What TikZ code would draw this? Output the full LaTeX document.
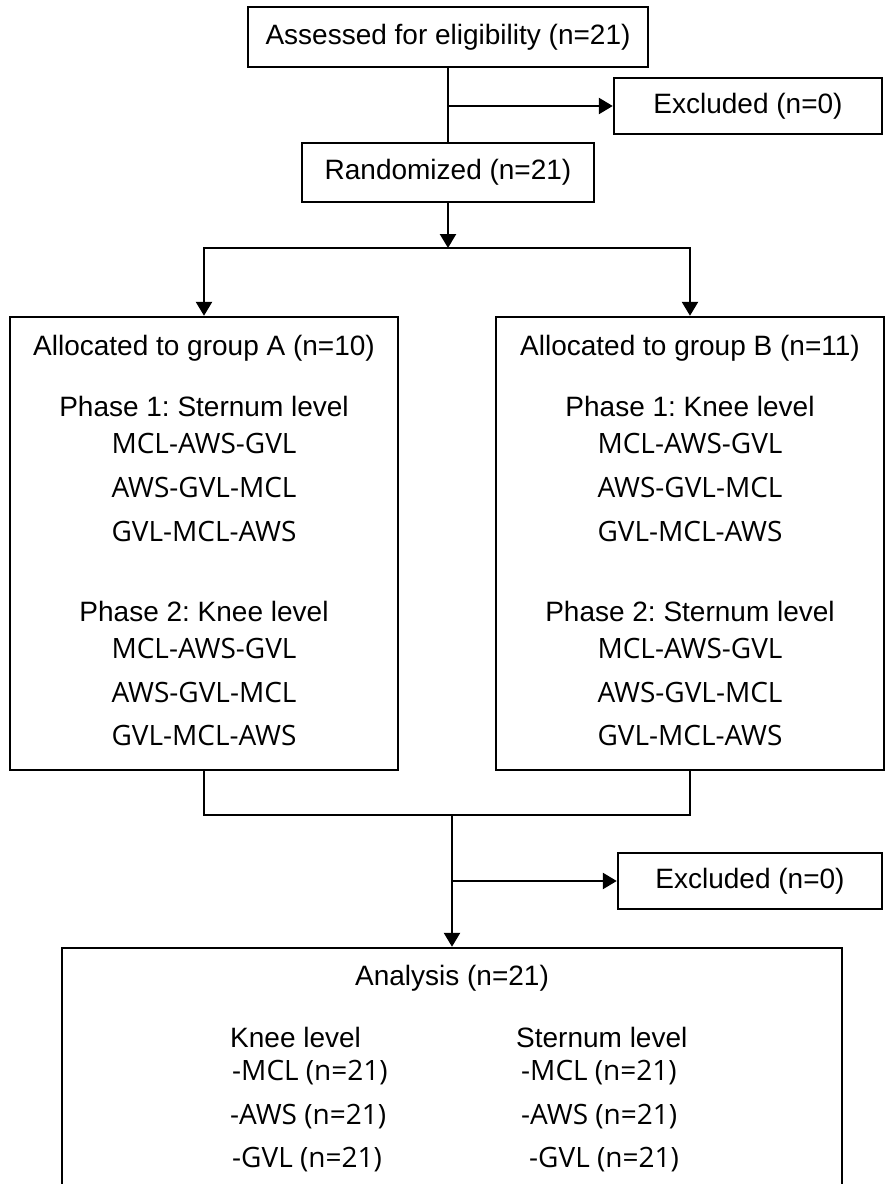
\documentclass[tikz,border=0pt]{standalone}
\usepackage{fontspec}
\setmainfont{Liberation Sans}
\newfontfamily\seqfont{Open Sans}
\usetikzlibrary{positioning,arrows.meta}
\frenchspacing

\tikzset{
  box/.style={draw, line width=1.2pt, inner sep=0pt, font=\fontsize{14}{17}\selectfont},
  lbl/.style={inner sep=0pt, font=\fontsize{14}{17}\selectfont},
  seq/.style={inner sep=0pt, font=\seqfont\fontsize{14}{17}\selectfont},
}

\begin{document}
\begin{tikzpicture}[x=0.5pt, y=-0.5pt, >={Triangle[length=7pt,width=8pt]}, line width=1.2pt]
  \useasboundingbox (0,0) rectangle (893,1184);

  % boxes
  \node[box, minimum width=200pt, minimum height=30pt] (assess) at (448,37) {Assessed for eligibility (n=21)};
  \node[box, minimum width=134pt, minimum height=28pt] (excl1) at (748,106) {Excluded (n=0)};
  \node[box, minimum width=146pt, minimum height=29.5pt] (rand) at (448,172.5) {Randomized (n=21)};
  \node[box, minimum width=194pt, minimum height=226.5pt] (grpA) at (204,543.5) {};
  \node[box, minimum width=194pt, minimum height=226.5pt] (grpB) at (690,543.5) {};
  \node[box, minimum width=132pt, minimum height=28pt] (excl2) at (750,881) {Excluded (n=0)};
  \node[box, minimum width=390pt, minimum height=130pt] (anal) at (452,1078) {};

  \coordinate (branch) at (448,248);
  \coordinate (merge) at (452,815);

  % group A
  \node[lbl] (hdrA) at (204,348) {Allocated to group A (n=10)};
  \node[lbl] (phA1) at (204,406) {Phase 1: Sternum level};
  \node[lbl] (phA2) at (204,611) {Phase 2: Knee level};
  \foreach \s/\y [count=\i] in {MCL-AWS-GVL/443, AWS-GVL-MCL/487, GVL-MCL-AWS/531,
                                MCL-AWS-GVL/648, AWS-GVL-MCL/692, GVL-MCL-AWS/735}
    \node[seq] (sA\i) at (204,\y) {\s};

  % group B
  \node[lbl] (hdrB) at (690,348) {Allocated to group B (n=11)};
  \node[lbl] (phB1) at (690,406) {Phase 1: Knee level};
  \node[lbl] (phB2) at (690,611) {Phase 2: Sternum level};
  \foreach \s/\y [count=\i] in {MCL-AWS-GVL/443, AWS-GVL-MCL/487, GVL-MCL-AWS/531,
                                MCL-AWS-GVL/648, AWS-GVL-MCL/692, GVL-MCL-AWS/735}
    \node[seq] (sB\i) at (690,\y) {\s};

  % analysis
  \node[lbl] (anhdr) at (452,978) {Analysis (n=21)};
  \node[lbl, anchor=west] (knee) at (229,1037) {Knee level};
  \node[lbl, anchor=west] (stern) at (515,1037) {Sternum level};
  \node[seq, anchor=west] (kM) at (231,1073) {-MCL (n=21)};
  \node[seq, anchor=west] (kA) at (229,1117) {-AWS (n=21)};
  \node[seq, anchor=west] (kG) at (231,1160) {-GVL (n=21)};
  \node[seq, anchor=west] (sM) at (520,1073) {-MCL (n=21)};
  \node[seq, anchor=west] (sA) at (520,1117) {-AWS (n=21)};
  \node[seq, anchor=west] (sG) at (528,1160) {-GVL (n=21)};

  % connectors
  \draw (assess.south) -- (rand.north);
  \draw[->] (assess.south |- excl1.west) -- (excl1.west);
  \draw[->] (rand.south) -- (branch);
  \draw[->] (branch) -| (grpA.north);
  \draw[->] (branch) -| (grpB.north);
  \draw (grpA.south) |- (merge) -| (grpB.south);
  \draw[->] (merge) -- (anal.north);
  \draw[->] (merge |- excl2.west) -- (excl2.west);
\end{tikzpicture}
\end{document}
